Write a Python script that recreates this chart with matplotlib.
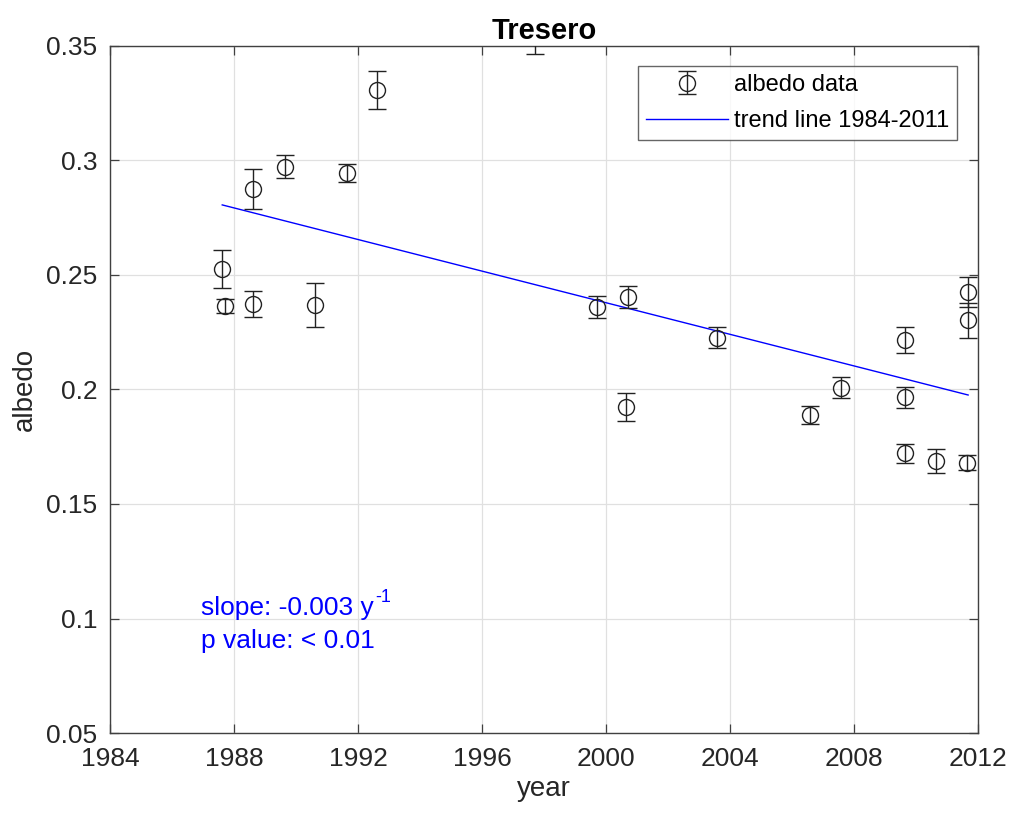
import numpy as np
import matplotlib as mp
import matplotlib.pyplot as plt

mp.rcParams['font.family'] = ['Liberation Sans', 'DejaVu Sans']

# albedo observations (decimal year, albedo, error)
years = [1987.61, 1987.71, 1988.61, 1988.61, 1989.65, 1990.61, 1991.65, 1992.61,
         1997.71, 1999.71, 2000.71, 2000.65, 2003.58, 2006.58, 2007.58, 2009.65,
         2009.65, 2009.65, 2010.65, 2011.65, 2011.68, 2011.68]
albedo = [0.2526, 0.2365, 0.2876, 0.2373, 0.2972, 0.2369, 0.2945, 0.3308,
          0.3550, 0.2360, 0.2404, 0.1924, 0.2225, 0.1889, 0.2008, 0.2216,
          0.1966, 0.1721, 0.1688, 0.1680, 0.2427, 0.2303]
err = [0.0085, 0.0030, 0.0087, 0.0057, 0.0050, 0.0094, 0.0039, 0.0083,
       0.0085, 0.0050, 0.0048, 0.0060, 0.0046, 0.0040, 0.0045, 0.0057,
       0.0046, 0.0043, 0.0051, 0.0033, 0.0066, 0.0076]

# linear trend
trend_start = 1987.62
trend_end = 2011.68
trend_at_start = 0.2806
trend_slope = -0.00345

axcol = '#404040'

fig = plt.figure(figsize=(10.11, 8.18), dpi=100)
ax = fig.add_axes([0.1088, 0.1039, 0.8586, 0.8399])

eb = ax.errorbar(years, albedo, yerr=err, fmt='o', mfc='none', mec='#222222',
                 ecolor='#222222', ms=11.5, mew=1.0, elinewidth=1.0, capsize=6.4,
                 capthick=1.0, label='albedo data', zorder=3)

tx = np.array([trend_start, trend_end])
ty = trend_at_start + trend_slope*(tx - trend_start)
tl, = ax.plot(tx, ty, '-', color='#0000ff', lw=1.0, label='trend line 1984-2011', zorder=2)

ax.set_xlim(1984, 2012)
ax.set_ylim(0.05, 0.35)
ax.set_xticks(np.arange(1984, 2013, 4))
ax.set_yticks(np.arange(0.05, 0.351, 0.05))
ax.set_yticklabels(['0.05', '0.1', '0.15', '0.2', '0.25', '0.3', '0.35'])
ax.grid(True, color='#e0e0e0', lw=0.9)
ax.set_axisbelow(True)
ax.tick_params(direction='in', top=True, right=True, labelsize=19,
               colors=axcol, labelcolor='#262626', length=6.5, width=0.9)
ax.tick_params(axis='x', pad=10)
ax.tick_params(axis='y', pad=9)
for s in ax.spines.values():
    s.set_color(axcol)
    s.set_linewidth(1.0)

ax.set_xlabel('year', fontsize=20, color='#262626', labelpad=4)
ax.set_ylabel('albedo', fontsize=20, color='#262626', labelpad=6)
ax.set_title('Tresero', fontsize=21, fontweight='bold', pad=5)

# fit statistics, superscript drawn as its own small text
t1 = ax.text(1986.95, 0.1015, 'slope: -0.003 y', color='#0000ff', fontsize=19,
             va='baseline')
ax.annotate('-1', xy=(1, 1), xycoords=t1, xytext=(1, 5), textcoords='offset points',
            color='#0000ff', fontsize=13, va='top', ha='left')
ax.text(1986.95, 0.0871, 'p value: < 0.01', color='#0000ff', fontsize=19,
        va='baseline')

leg = ax.legend([eb, tl], ['albedo data', 'trend line 1984-2011'],
                loc='upper right', bbox_to_anchor=(0.9758, 0.9715), fontsize=17,
                frameon=True, fancybox=False, edgecolor=axcol,
                handlelength=3.45, handletextpad=0.25, borderpad=0.35,
                labelspacing=0.6, borderaxespad=0)
leg.get_frame().set_linewidth(1.0)

plt.savefig('out.png', dpi=100, facecolor='w')
